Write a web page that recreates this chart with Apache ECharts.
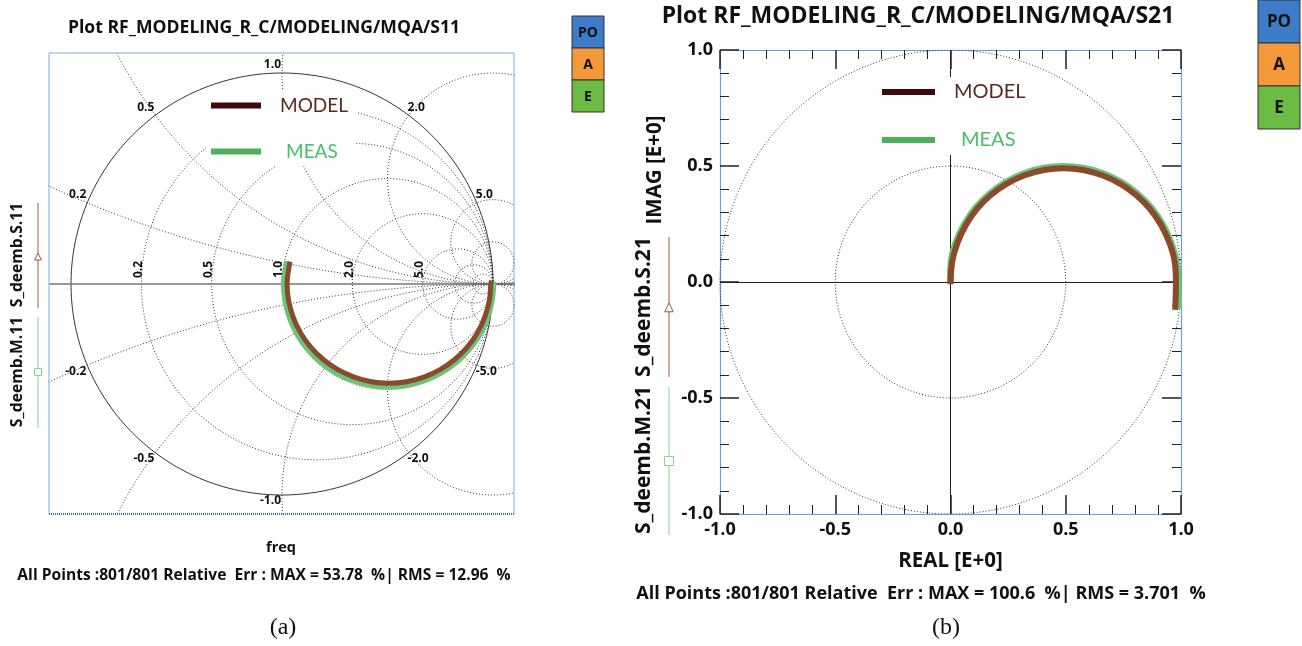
<!DOCTYPE html>
<html><head><meta charset="utf-8">
<script src="https://cdn.jsdelivr.net/npm/echarts@6/dist/echarts.min.js"></script>
<style>html,body{margin:0;padding:0;background:#fff}#c{width:1302px;height:646px}</style>
</head><body><div id="c"></div>
<script>
// ================= DATA =================
// S11 (Smith chart, reflection coefficient Re/Im)
const s11ModelRe = [0.993,0.990,0.983,0.961,0.925,0.877,0.817,0.749,0.672,0.591,0.507,0.423,0.342,0.265,0.197,0.137,0.089,0.053,0.031,0.024,0.030,0.038];
const s11ModelIm = [0.015,0.005,-0.077,-0.157,-0.233,-0.300,-0.359,-0.406,-0.441,-0.463,-0.470,-0.463,-0.441,-0.406,-0.359,-0.300,-0.233,-0.157,-0.077,0.005,0.060,0.105];
const s11MeasRe  = [0.999,0.999,0.991,0.969,0.933,0.883,0.823,0.752,0.674,0.591,0.505,0.419,0.336,0.258,0.187,0.127,0.077,0.041,0.019,0.011,0.018,0.028];
const s11MeasIm  = [0.012,0.003,-0.081,-0.163,-0.240,-0.309,-0.369,-0.418,-0.454,-0.476,-0.483,-0.476,-0.454,-0.418,-0.369,-0.309,-0.240,-0.163,-0.081,0.003,0.060,0.108];
// S21 (polar, REAL / IMAG)
const s21ModelRe = [0.000,0.007,0.030,0.066,0.115,0.175,0.245,0.322,0.405,0.490,0.575,0.658,0.735,0.805,0.865,0.914,0.950,0.973,0.978,0.977,0.975];
const s21ModelIm = [-0.010,0.085,0.168,0.245,0.315,0.375,0.424,0.460,0.483,0.490,0.483,0.460,0.424,0.375,0.315,0.245,0.168,0.085,0.000,-0.060,-0.120];
const s21MeasRe  = [0.000,0.003,0.024,0.061,0.110,0.172,0.243,0.321,0.404,0.490,0.576,0.660,0.738,0.809,0.870,0.919,0.956,0.980,0.988,0.988,0.987];
const s21MeasIm  = [0.000,0.086,0.170,0.249,0.320,0.381,0.431,0.468,0.490,0.498,0.490,0.468,0.431,0.381,0.320,0.249,0.170,0.086,0.000,-0.060,-0.115];
// Smith grid values and labels
const smithR = [0.2, 0.5, 1, 2, 5];
const smithRLabels = ['0.2','0.5','1.0','2.0','5.0'];
const smithX = [0.2, 0.5, 1, 2, 5];
const smithXLabels = ['0.2','0.5','1.0','2.0','5.0'];
const smithFineR = [10, 20];
const smithFineX = [10];
// polar plot rings
const polarRings = [0.5, 1.0];
const seriesNames = ['MODEL','MEAS'];
const titles = ['Plot RF_MODELING_R_C/MODELING/MQA/S11','Plot RF_MODELING_R_C/MODELING/MQA/S21'];
const statsTexts = ['All Points :801/801 Relative  Err : MAX = 53.78  %| RMS = 12.96  %',
                    'All Points :801/801 Relative  Err : MAX = 100.6  %| RMS = 3.701  %'];
const sideLabels = [['S_deemb.S.11','S_deemb.M.11'],['S_deemb.S.21','S_deemb.M.21']];
const boxLabels = ['PO','A','E'];

// ================= STYLE =================
const FONT = '"Open Sans", Lato, sans-serif';
const LFONT = 'Lato, "Open Sans", sans-serif';
const cModelLine = '#8a4a2c', cMeasLine = '#6cc47a';
const cModelLeg = '#3d0b0b', cMeasLeg = '#4caf5a';
const cModelTxt = '#5b2a22', cMeasTxt = '#45bf6a';
const cSideBrown = '#a25a3c', cSideGreen = '#86d394';

const zip = (a, b) => a.map((v, i) => [v, b[i]]);
function circlePts(cx, cy, r, n) {
  const pts = [];
  for (let i = 0; i <= n; i++) { const t = 2 * Math.PI * i / n; pts.push([cx + r * Math.cos(t), cy + r * Math.sin(t)]); }
  return pts;
}
function gridLine(data, axisIdx, extra) {
  return Object.assign({
    type: 'line', xAxisIndex: axisIdx, yAxisIndex: axisIdx, data, symbol: 'none', showSymbol: false,
    silent: true, animation: false, clip: true, z: 1,
    lineStyle: { color: '#333', width: 1, type: [1, 2] }
  }, extra || {});
}

const series = [];
// Smith constant-resistance circles
smithR.concat(smithFineR).forEach(r => series.push(gridLine(circlePts(r / (1 + r), 0, 1 / (1 + r), 360), 0)));
// Smith constant-reactance circles (full, clipped by the box)
smithX.concat(smithFineX).forEach(x => {
  [x, -x].forEach(v => series.push(gridLine(circlePts(1, 1 / v, 1 / Math.abs(v), x < 1 ? 1440 : 720), 0)));
});
// unit circle + real axis
series.push(gridLine(circlePts(0, 0, 1, 720), 0, {
  lineStyle: { color: '#333', width: 1, type: 'solid' }, z: 2,
  markLine: { silent: true, symbol: 'none', label: { show: false }, animation: false,
    lineStyle: { color: '#777', width: 1.5, type: 'solid' }, data: [{ yAxis: 0 }] }
}));
// S11 curves
series.push({ name: seriesNames[1], type: 'line', xAxisIndex: 0, yAxisIndex: 0, data: zip(s11MeasRe, s11MeasIm),
  symbol: 'none', smooth: 0.4, lineStyle: { color: cMeasLine, width: 7 }, itemStyle: { color: cMeasLine }, z: 5, animation: false });
series.push({ name: seriesNames[0], type: 'line', xAxisIndex: 0, yAxisIndex: 0, data: zip(s11ModelRe, s11ModelIm),
  symbol: 'none', smooth: 0.4, lineStyle: { color: cModelLine, width: 5 }, itemStyle: { color: cModelLine }, z: 6, animation: false });
// polar rings
polarRings.forEach((r, i) => series.push(gridLine(circlePts(0, 0, r, 720), 1, i === 0 ? {
  markLine: { silent: true, symbol: 'none', label: { show: false }, animation: false,
    lineStyle: { color: '#222', width: 1, type: 'solid' }, data: [{ yAxis: 0 }, { xAxis: 0 }] }
} : {})));
// S21 curves
series.push({ name: seriesNames[1], type: 'line', xAxisIndex: 1, yAxisIndex: 1, data: zip(s21MeasRe, s21MeasIm),
  symbol: 'none', smooth: 0.4, lineStyle: { color: cMeasLine, width: 7 }, itemStyle: { color: cMeasLine }, z: 5, animation: false });
series.push({ name: seriesNames[0], type: 'line', xAxisIndex: 1, yAxisIndex: 1, data: zip(s21ModelRe, s21ModelIm),
  symbol: 'none', smooth: 0.4, lineStyle: { color: cModelLine, width: 6 }, itemStyle: { color: cModelLine }, z: 6, animation: false });

const polarAxisBase = {
  type: 'value', min: -1, max: 1, interval: 0.5,
  axisLine: { show: true, onZero: false, lineStyle: { color: '#6d9fd6', width: 1.2 } },
  axisTick: { show: true, inside: true, length: 19, lineStyle: { color: '#222', width: 1.5 } },
  minorTick: { show: true, splitNumber: 5, length: 9, lineStyle: { color: '#222', width: 1 } },
  splitLine: { show: false }, minorSplitLine: { show: false },
  axisLabel: { show: true, fontFamily: FONT, fontWeight: 'bold', fontSize: 18, color: '#111',
    showMinLabel: true, showMaxLabel: true, formatter: v => v.toFixed(1) }
};
const hiddenLabel = { show: false };

function legendFor(left, top, fs, gap, iw, padModel, padMeas) {
  return {
    orient: 'vertical', left, top, icon: 'rect', itemWidth: iw, itemHeight: 6, itemGap: gap,
    selectedMode: false, backgroundColor: '#fff', padding: [5, 8, 5, 5], z: 10,
    textStyle: { fontFamily: LFONT, fontSize: fs },
    data: [
      { name: seriesNames[0], itemStyle: { color: cModelLeg }, textStyle: { color: cModelTxt, fontSize: fs, fontFamily: LFONT, padding: [0, 0, 0, padModel] } },
      { name: seriesNames[1], itemStyle: { color: cMeasLeg }, textStyle: { color: cMeasTxt, fontSize: fs, fontFamily: LFONT, padding: [0, 0, 0, padMeas] } }
    ]
  };
}

function txt(x, y, text, font, fill, align, rot, vAlign) {
  return { type: 'text', x, y, rotation: rot || 0, z: 20, silent: true,
    style: { text, font, fill: fill || '#111', align: align || 'center', textAlign: align || 'center',
      verticalAlign: vAlign || 'middle', textVerticalAlign: vAlign || 'middle' } };
}
function ln(x1, y1, x2, y2, stroke, w, dash) {
  return { type: 'line', z: 20, silent: true, shape: { x1, y1, x2, y2 }, style: { stroke, lineWidth: w || 1, lineDash: dash || null } };
}
function tri(x, y, s, stroke) {
  return { type: 'polygon', z: 21, silent: true, shape: { points: [[x, y - s], [x - s * 0.85, y + s * 0.75], [x + s * 0.85, y + s * 0.75]] }, style: { fill: '#fff', stroke, lineWidth: 1 } };
}
function sq(x, y, s, stroke) {
  return { type: 'rect', z: 21, silent: true, shape: { x: x - s / 2, y: y - s / 2, width: s, height: s }, style: { fill: '#fff', stroke, lineWidth: 1 } };
}
function boxes(x, y, w, h, fs) {
  const cols = ['#3d7cc9', '#f4993a', '#6cbb45'];
  const out = [];
  boxLabels.forEach((b, i) => {
    out.push({ type: 'rect', z: 20, silent: true, shape: { x, y: y + i * h, width: w, height: h }, style: { fill: cols[i], stroke: '#333', lineWidth: 1 } });
    out.push(txt(x + w / 2, y + i * h + h / 2 + 1, b, 'bold ' + fs + 'px ' + FONT, '#111'));
  });
  return out;
}

const graphics = [];
// titles
graphics.push(txt(264, 28, titles[0], 'bold 17.6px ' + FONT));
graphics.push(txt(918, 16, titles[1], 'bold 23px ' + FONT));
// PO / A / E boxes
boxes(572, 16, 32, 32, 14).forEach(g => graphics.push(g));
boxes(1258, 0, 42, 43, 17).forEach(g => graphics.push(g));
// left box border
const bc = '#7eaee0';
graphics.push(ln(49, 53, 514, 53, bc, 1));
graphics.push(ln(49, 53, 49, 514, bc, 1));
graphics.push(ln(514, 53, 514, 514, bc, 1));
graphics.push(ln(49, 514, 514, 514, '#3c6fb5', 2, [1, 1]));
// side labels (left)
graphics.push(txt(18, 255, sideLabels[0][0], 'bold 15.7px ' + FONT, '#111', 'center', Math.PI / 2));
graphics.push(txt(18, 372, sideLabels[0][1], 'bold 15.7px ' + FONT, '#111', 'center', Math.PI / 2));
graphics.push(ln(38, 203, 38, 308, cSideBrown, 1));
graphics.push(ln(38, 317, 38, 428, cSideGreen, 1));
graphics.push(tri(38, 257, 4, cSideBrown));
graphics.push(sq(38, 372, 7, cSideGreen));
// side labels (right)
graphics.push(txt(644, 307, sideLabels[1][0], 'bold 21px ' + FONT, '#111', 'center', Math.PI / 2));
graphics.push(txt(644, 460, sideLabels[1][1], 'bold 21px ' + FONT, '#111', 'center', Math.PI / 2));
graphics.push(ln(669, 237, 669, 377, cSideBrown, 1));
graphics.push(ln(669, 387, 669, 535, cSideGreen, 1));
graphics.push(tri(669, 308, 5, cSideBrown));
graphics.push(sq(669, 461, 9, cSideGreen));
graphics.push(txt(655, 170, 'IMAG [E+0]', 'bold 20.5px ' + FONT, '#111', 'center', Math.PI / 2));
// bottom texts
graphics.push(txt(281, 548, 'freq', 'bold 14.5px ' + FONT));
graphics.push(txt(264, 576, statsTexts[0], 'bold 15.6px ' + FONT));
graphics.push(txt(921, 594, statsTexts[1], 'bold 18px ' + FONT));
graphics.push(txt(283, 628, '(a)', '24px "Liberation Serif", "DejaVu Serif", serif'));
graphics.push(txt(946, 628, '(b)', '24px "Liberation Serif", "DejaVu Serif", serif'));

const option = {
  backgroundColor: '#fff',
  animation: false,
  grid: [
    { left: 49, top: 53, width: 465, height: 461, show: false },
    { left: 720, top: 50, width: 461, height: 464, show: false }
  ],
  xAxis: [
    { gridIndex: 0, type: 'value', min: -1.1043, max: 1.0995, show: false },
    Object.assign({}, polarAxisBase, { gridIndex: 1, position: 'bottom', name: 'REAL [E+0]', nameLocation: 'middle', nameGap: 37,
      nameTextStyle: { fontFamily: FONT, fontWeight: 'bold', fontSize: 20.5, color: '#111' },
      axisLabel: Object.assign({}, polarAxisBase.axisLabel, { margin: 7 }) }),
    Object.assign({}, polarAxisBase, { gridIndex: 1, position: 'top', axisLabel: hiddenLabel })
  ],
  yAxis: [
    { gridIndex: 0, type: 'value', min: -1.0900, max: 1.0948, show: false },
    Object.assign({}, polarAxisBase, { gridIndex: 1, position: 'left', axisLabel: Object.assign({}, polarAxisBase.axisLabel, { margin: 7 }) }),
    Object.assign({}, polarAxisBase, { gridIndex: 1, position: 'right', axisLabel: hiddenLabel })
  ],
  legend: [
    legendFor(206, 91, 19, 27, 50, 14, 20),
    legendFor(877, 77, 20, 28, 53, 14, 21)
  ],
  series,
  graphic: { elements: graphics }
};

const chart = echarts.init(document.getElementById('c'), null, { renderer: 'canvas' });
chart.setOption(option);

// Smith chart labels positioned through the library's scales
const P = p => chart.convertToPixel({ gridIndex: 0 }, p);
const smithLabelEls = [];
smithX.forEach((x, i) => {
  [1, -1].forEach(sg => {
    const v = sg * x, d = 1 + v * v;
    const pt = P([(v * v - 1) / d, 2 * v / d]);
    smithLabelEls.push(txt(pt[0] - 1, sg > 0 ? pt[1] - 8 : pt[1] + 6, (sg < 0 ? '-' : '') + smithXLabels[i],
      'bold 12px ' + FONT, '#111', x > 1 ? 'left' : 'right'));
  });
});
smithR.forEach((r, i) => {
  const pt = P([(r - 1) / (r + 1), 0]);
  smithLabelEls.push(txt(pt[0] - 3, pt[1] - 6, smithRLabels[i], 'bold 12px ' + FONT, '#111', 'left', Math.PI / 2));
});
chart.setOption({ graphic: { elements: graphics.concat(smithLabelEls) } });
</script>
</body></html>
